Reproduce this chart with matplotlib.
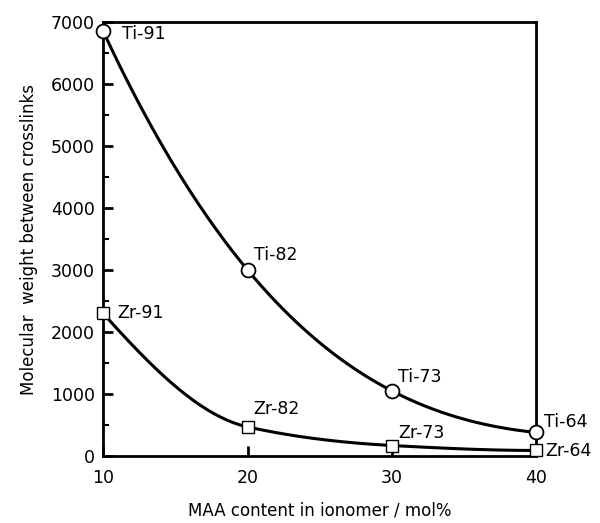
import numpy as np
import matplotlib
matplotlib.use("Agg")
import matplotlib.pyplot as plt
from matplotlib.ticker import MultipleLocator

plt.rcParams['font.family'] = ['DejaVu Sans']

maa = [10, 20, 30, 40]
ti_vals = [6850, 3000, 1050, 380]
zr_vals = [2300, 470, 170, 90]
ti_labels = ["Ti-91", "Ti-82", "Ti-73", "Ti-64"]
zr_labels = ["Zr-91", "Zr-82", "Zr-73", "Zr-64"]


def monotone_curve(x, y, n=300):
    # Fritsch-Carlson monotone cubic Hermite, for a smooth drawn line
    x = np.asarray(x, float)
    y = np.asarray(y, float)
    h = np.diff(x)
    d = np.diff(y) / h
    m = np.zeros_like(y)
    for i in range(1, len(y) - 1):
        if d[i - 1] * d[i] <= 0:
            m[i] = 0
        else:
            w1 = 2 * h[i] + h[i - 1]
            w2 = h[i] + 2 * h[i - 1]
            m[i] = (w1 + w2) / (w1 / d[i - 1] + w2 / d[i])
    m[0] = ((2 * h[0] + h[1]) * d[0] - h[0] * d[1]) / (h[0] + h[1])
    if np.sign(m[0]) != np.sign(d[0]):
        m[0] = 0
    m[-1] = ((2 * h[-1] + h[-2]) * d[-1] - h[-1] * d[-2]) / (h[-1] + h[-2])
    if np.sign(m[-1]) != np.sign(d[-1]):
        m[-1] = 0
    xs = np.linspace(x[0], x[-1], n)
    idx = np.clip(np.searchsorted(x, xs) - 1, 0, len(x) - 2)
    t = (xs - x[idx]) / h[idx]
    h00 = 2 * t**3 - 3 * t**2 + 1
    h10 = t**3 - 2 * t**2 + t
    h01 = -2 * t**3 + 3 * t**2
    h11 = t**3 - t**2
    ys = h00 * y[idx] + h10 * h[idx] * m[idx] + h01 * y[idx + 1] + h11 * h[idx] * m[idx + 1]
    return xs, ys


fig = plt.figure(figsize=(6.0, 5.23), dpi=100)
ax = fig.add_axes([0.172, 0.128, 0.722, 0.830])

# Ti: smooth cubic through the four points
xs = np.linspace(10, 40, 300)
ax.plot(xs, np.polyval(np.polyfit(maa, ti_vals, 3), xs), color='black', lw=2.2,
        zorder=2, clip_on=False)
# Zr: monotone smooth curve
xs_z, ys_z = monotone_curve(maa, zr_vals)
ax.plot(xs_z, ys_z, color='black', lw=2.2, zorder=2, clip_on=False)

ax.plot(maa, ti_vals, 'o', ms=10, mfc='white', mec='black', mew=1.3, zorder=3, clip_on=False)
ax.plot(maa, zr_vals, 's', ms=9, mfc='white', mec='black', mew=1.0, zorder=3, clip_on=False)

ti_off = [(19, -3), (6, 15), (6, 14), (8, 10)]
zr_off = [(14, 0), (6, 18), (6, 13), (9, -1)]
for x, y, lab, off in zip(maa, ti_vals, ti_labels, ti_off):
    ax.annotate(lab, (x, y), xytext=off, textcoords='offset pixels',
                ha='left', va='center', fontsize=12.5, annotation_clip=False)
for x, y, lab, off in zip(maa, zr_vals, zr_labels, zr_off):
    ax.annotate(lab, (x, y), xytext=off, textcoords='offset pixels',
                ha='left', va='center', fontsize=12.5, annotation_clip=False)

ax.set_xlim(10, 40)
ax.set_ylim(0, 7000)
ax.set_xticks([10, 20, 30, 40])
ax.yaxis.set_major_locator(MultipleLocator(1000))
ax.yaxis.set_minor_locator(MultipleLocator(500))
ax.tick_params(axis='both', which='major', direction='in', length=7, width=2,
               labelsize=12.5, top=False, right=False)
ax.tick_params(axis='y', which='minor', direction='in', length=4, width=1.5, right=False)
ax.tick_params(axis='x', which='major', pad=9)
ax.tick_params(axis='y', which='major', pad=6)
for s in ax.spines.values():
    s.set_linewidth(2)

ax.set_xlabel("MAA content in ionomer / mol%", fontsize=12, labelpad=11)
ax.set_ylabel("Molecular  weight between crosslinks", fontsize=12, labelpad=9)

fig.savefig("out.png", dpi=100)
